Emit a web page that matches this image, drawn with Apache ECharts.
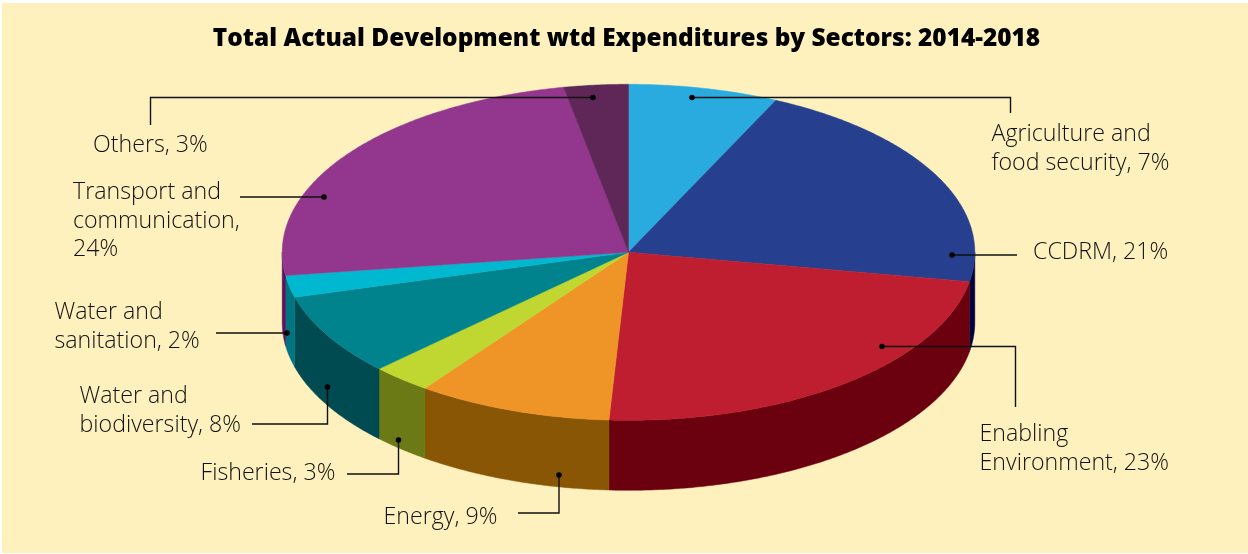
<!DOCTYPE html>
<html>
<head>
<meta charset="utf-8">
<script src="https://cdn.jsdelivr.net/npm/echarts@6/dist/echarts.min.js"></script>
<style>html,body{margin:0;padding:0;background:#fff}#c{width:1248px;height:554px}</style>
</head>
<body>
<div id="c"></div>
<script>
var titleText = 'Total Actual Development wtd Expenditures by Sectors: 2014-2018';
var categories = ['Agriculture and\nfood security', 'CCDRM', 'Enabling\nEnvironment', 'Energy', 'Fisheries', 'Water and\nbiodiversity', 'Water and\nsanitation', 'Transport and\ncommunication', 'Others'];
var statedPercent = [7, 21, 23, 9, 3, 8, 2, 24, 3];
var percentOnOwnLine = [false, false, false, false, false, false, false, true, false];
var shares = [7.0, 20.8, 23.1, 9.1, 2.8, 7.9, 2.1, 24.2, 3.0];
var topColors = ['#29ABE0', '#26408F', '#BE1E2F', '#EF9527', '#BFD730', '#00838C', '#00B9D0', '#93368D', '#5F2758'];
var sideColors = ['#29ABE0', '#00003F', '#6B000E', '#895606', '#6B7A14', '#004A52', '#007480', '#5A1560', '#5F2758'];

var PIE = {cx: 628.5, cy: 252.3, rx: 346.3, ry: 168, depth: 70};
var labelLayout = [
  {x: 991.5, y: 120}, {x: 1033, y: 238}, {x: 979.5, y: 420}, {x: 383.5, y: 503}, {x: 200.5, y: 459},
  {x: 79.5, y: 382}, {x: 54.5, y: 298}, {x: 73, y: 178}, {x: 93, y: 131}
];
var leaders = [
  [[692, 97.5], [1010.5, 97.5], [1010.5, 113]],
  [[952, 255], [1017, 255]],
  [[882, 346.5], [1015.5, 346.5], [1015.5, 407]],
  [[559, 475], [559, 513], [518, 513]],
  [[398.5, 440], [398.5, 474], [347, 474]],
  [[327.5, 387], [327.5, 424], [252, 424]],
  [[287, 333], [216, 333]],
  [[324, 197], [240, 197]],
  [[593, 97.5], [150.5, 97.5], [150.5, 125]]
];

function pt(deg, dy) {
  var a = deg * Math.PI / 180;
  return [PIE.cx + PIE.rx * Math.sin(a), PIE.cy - PIE.ry * Math.cos(a) + (dy || 0)];
}
function arc(a0, a1, dy) {
  var pts = [], n = Math.max(2, Math.ceil(Math.abs(a1 - a0) * 2));
  for (var i = 0; i <= n; i++) pts.push(pt(a0 + (a1 - a0) * i / n, dy));
  return pts;
}
var total = shares.reduce(function (s, v) { return s + v; }, 0);

function renderItem(params, api) {
  var i = params.dataIndex, before = 0;
  for (var k = 0; k < i; k++) before += shares[k];
  var a0 = before / total * 360, a1 = a0 + api.value(0) / total * 360;
  var children = [];
  var s0 = Math.max(a0, 90), s1 = Math.min(a1, 270);
  if (s1 > s0) {
    var pts = arc(s0, s1, 0).concat(arc(s1, s0, PIE.depth));
    children.push({type: 'polygon', shape: {points: pts},
      style: {fill: sideColors[i], stroke: sideColors[i], lineWidth: 0.5}});
  }
  var top = [[PIE.cx, PIE.cy]].concat(arc(a0, a1, 0));
  children.push({type: 'polygon', shape: {points: top},
    style: {fill: topColors[i], stroke: topColors[i], lineWidth: 0.5}});
  return {type: 'group', children: children};
}

var graphics = [{type: 'rect', z: -10, shape: {x: 2, y: 3, width: 1246, height: 550}, style: {fill: '#FEF1BE'}}];
graphics.push({type: 'text', z: 20, x: 626.5, y: 39, style: {
  text: titleText, fill: '#000', font: '800 24.4px "Open Sans"', align: 'center', verticalAlign: 'middle'}});
categories.forEach(function (name, i) {
  graphics.push({type: 'text', z: 20, x: labelLayout[i].x, y: labelLayout[i].y, style: {
    text: name + (percentOnOwnLine[i] ? ',\n' : ', ') + statedPercent[i] + '%', fill: '#111',
    font: '300 23.2px "Open Sans"', lineHeight: 28.7, align: 'left', verticalAlign: 'top'}});
  graphics.push({type: 'polyline', z: 20, shape: {points: leaders[i]},
    style: {fill: 'none', stroke: '#111', lineWidth: 1.4}});
  graphics.push({type: 'circle', z: 21, shape: {cx: leaders[i][0][0], cy: leaders[i][0][1], r: 2.8},
    style: {fill: '#000'}});
});

var chart = echarts.init(document.getElementById('c'), null, {renderer: 'canvas'});
chart.setOption({
  animation: false,
  graphic: {elements: graphics},
  series: [{
    type: 'custom',
    coordinateSystem: 'none',
    silent: true,
    z: 5,
    renderItem: renderItem,
    data: shares.map(function (v, i) { return {name: categories[i], value: [v]}; })
  }]
});
</script>
</body>
</html>
